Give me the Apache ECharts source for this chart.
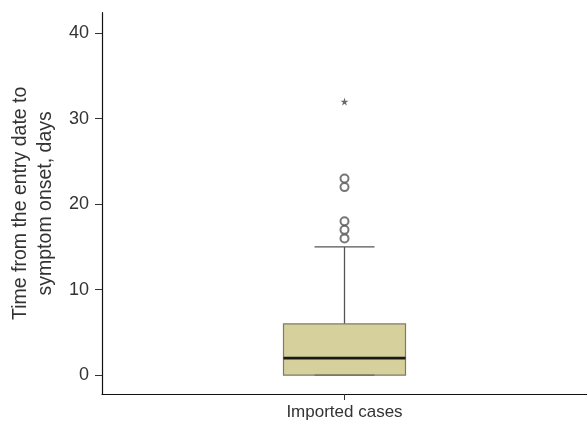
<!DOCTYPE html>
<html>
<head>
<meta charset="utf-8">
<script src="https://cdn.jsdelivr.net/npm/echarts@6/dist/echarts.min.js"></script>
<style>html,body{margin:0;padding:0;background:#fff;}#c{width:587px;height:427px;}</style>
</head>
<body>
<div id="c"></div>
<script>
var categories = ['Imported cases'];
// [min, Q1, median, Q3, max]
var boxStats = [[0, 0, 2, 6, 15]];
var outliers = [[0, 16], [0, 17], [0, 18], [0, 22], [0, 23]];
var extremes = [[0, 32]];
var yTicks = [0, 10, 20, 30, 40];

var chart = echarts.init(document.getElementById('c'), null, {renderer: 'canvas'});
var BOX_W = 122, CAP_W = 60;
var FONT = 'Liberation Sans, Arial, sans-serif';

function renderBox(params, api) {
  var idx = api.value(0);
  var mn = api.value(1), q1 = api.value(2), md = api.value(3), q3 = api.value(4), mx = api.value(5);
  var pMin = api.coord([idx, mn]), pQ1 = api.coord([idx, q1]), pMd = api.coord([idx, md]),
      pQ3 = api.coord([idx, q3]), pMx = api.coord([idx, mx]);
  var cx = pMd[0];
  var lineStyle = {stroke: '#555555', lineWidth: 1.3};
  return {
    type: 'group',
    children: [
      {type: 'line', shape: {x1: cx, y1: pQ3[1], x2: cx, y2: pMx[1]}, style: lineStyle},
      {type: 'line', shape: {x1: cx - CAP_W / 2, y1: pMx[1], x2: cx + CAP_W / 2, y2: pMx[1]}, style: lineStyle},
      {type: 'line', shape: {x1: cx, y1: pQ1[1], x2: cx, y2: pMin[1]}, style: lineStyle},
      {type: 'rect', shape: {x: cx - BOX_W / 2, y: pQ3[1], width: BOX_W, height: pQ1[1] - pQ3[1]},
        style: {fill: '#d6d19c', stroke: '#7c7b68', lineWidth: 1.2}},
      {type: 'line', shape: {x1: cx - CAP_W / 2, y1: pMin[1], x2: cx + CAP_W / 2, y2: pMin[1]},
        style: {stroke: '#6f6d5c', lineWidth: 1.3}},
      {type: 'line', shape: {x1: cx - BOX_W / 2, y1: pMd[1], x2: cx + BOX_W / 2, y2: pMd[1]},
        style: {stroke: '#1a1a14', lineWidth: 2.6}}
    ]
  };
}

chart.setOption({
  animation: false,
  backgroundColor: '#ffffff',
  grid: {left: 102, right: 0, top: 12.7, bottom: 33, containLabel: false, outerBoundsMode: 'none'},
  xAxis: {
    type: 'category',
    data: categories,
    boundaryGap: true,
    axisLine: {onZero: false, lineStyle: {color: '#111', width: 1.2}},
    axisTick: {show: true, alignWithLabel: true, length: 6, lineStyle: {color: '#333'}},
    axisLabel: {color: '#333', fontSize: 17, fontFamily: FONT, margin: 10},
    splitLine: {show: false}
  },
  yAxis: {
    type: 'value',
    min: -2.2,
    max: 42.4,
    name: 'Time from the entry date to\nsymptom onset, days',
    nameLocation: 'middle',
    nameGap: 44,
    nameRotate: 90,
    nameTextStyle: {color: '#333', fontSize: 19.5, fontFamily: FONT, lineHeight: 25},
    axisLine: {show: true, lineStyle: {color: '#111', width: 1.2}},
    axisTick: {show: true, length: 7, customValues: yTicks, lineStyle: {color: '#333'}},
    axisLabel: {color: '#333', fontSize: 18, fontFamily: FONT, margin: 13, customValues: yTicks},
    splitLine: {show: false}
  },
  series: [
    {
      type: 'custom',
      renderItem: renderBox,
      data: boxStats.map(function (s, i) { return [i].concat(s); }),
      encode: {x: 0, y: [1, 2, 3, 4, 5]},
      z: 2
    },
    {
      type: 'scatter',
      data: outliers,
      symbol: 'emptyCircle',
      symbolSize: 8,
      itemStyle: {color: '#555', borderColor: '#555', borderWidth: 1.5},
      z: 3
    },
    {
      type: 'scatter',
      data: extremes,
      symbol: 'path://M50,0 L61,35 L98,35 L68,57 L79,91 L50,70 L21,91 L32,57 L2,35 L39,35 Z',
      symbolSize: 8,
      itemStyle: {color: '#444'},
      z: 3
    }
  ]
});
</script>
</body>
</html>
